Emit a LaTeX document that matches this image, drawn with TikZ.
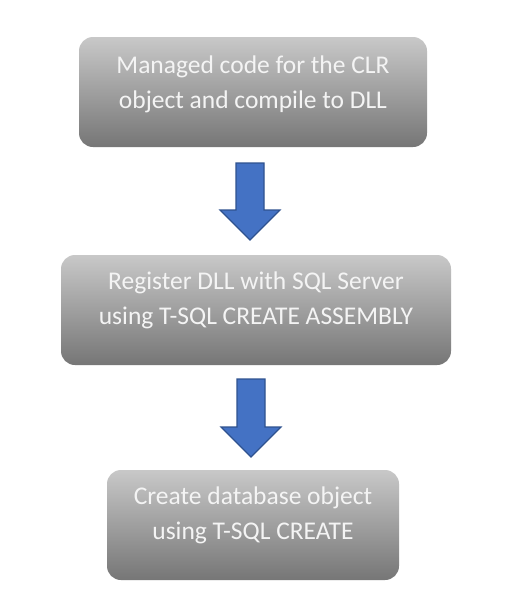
\documentclass[tikz,border=0pt]{standalone}
\usepackage{fontspec}
\setmainfont{Carlito}
\usetikzlibrary{calc}
\definecolor{boxtop}{HTML}{C8C8C8}
\definecolor{boxbot}{HTML}{767676}
\definecolor{txt}{HTML}{F4F4F4}
\definecolor{arrfill}{HTML}{4472C4}
\definecolor{arrline}{HTML}{2F528F}
\tikzset{
  stepbox/.style={rectangle, rounded corners=14pt, top color=boxtop, bottom color=boxbot, draw=none, inner sep=0pt},
  steptext/.style={text=txt, align=center, font=\fontsize{25.5}{35}\selectfont, inner sep=0pt},
  blockarrow/.style={fill=arrfill, draw=arrline, line width=1.2pt, line join=miter}
}
\begin{document}
\begin{tikzpicture}[x=1pt,y=-1pt]
\useasboundingbox (0,0) rectangle (516,616);
\fill[white] (0,0) rectangle (516,616);
% boxes
\node[stepbox, minimum width=348pt, minimum height=110pt] (b1) at (253,92) {};
\node[stepbox, minimum width=390pt, minimum height=110pt] (b2) at (256,310) {};
\node[stepbox, minimum width=292pt, minimum height=110pt] (b3) at (253,525) {};
\node[steptext] (t1) at ($(b1.center)+(0,-7.5)$) {Managed code for the CLR\\object and compile to DLL};
\node[steptext] (t2) at ($(b2.center)+(0,-10)$) {Register DLL with SQL Server\\using T-SQL CREATE ASSEMBLY};
\node[steptext] (t3) at ($(b3.center)+(0,-10)$) {Create database object\\using T-SQL CREATE};
% arrows
\coordinate (a1) at (250,163);
\coordinate (a2) at (251,379);
\draw[blockarrow, shift={(a1)}] (-14,0) -- (14,0) -- (14,47) -- (30,47) -- (0,77) -- (-30,47) -- (-14,47) -- cycle;
\draw[blockarrow, shift={(a2)}] (-14,0) -- (14,0) -- (14,48) -- (30,48) -- (0,78) -- (-30,48) -- (-14,48) -- cycle;
\end{tikzpicture}
\end{document}
